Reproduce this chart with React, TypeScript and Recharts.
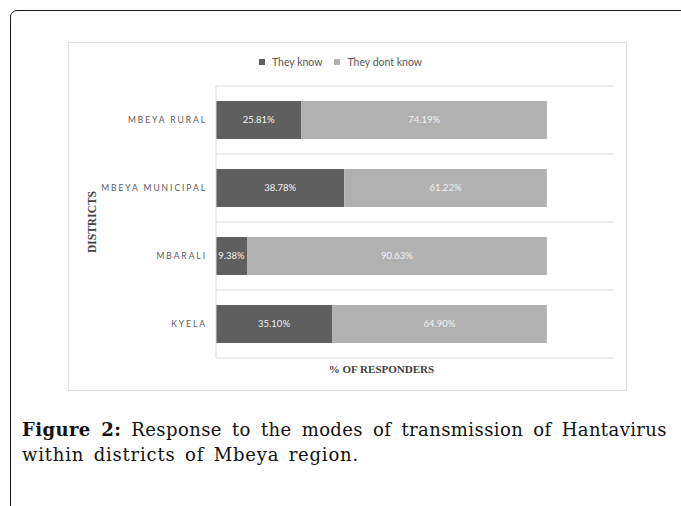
import React from 'react';
import { BarChart, Bar, XAxis, YAxis, CartesianGrid, Legend, LabelList } from 'recharts';

const districts = ['MBEYA RURAL', 'MBEYA MUNICIPAL', 'MBARALI', 'KYELA'];
const theyKnow = [25.81, 38.78, 9.38, 35.1];
const theyDontKnow = [74.19, 61.22, 90.63, 64.9];
const seriesNames = ['They know', 'They dont know'];

const data = districts.map((d, i) => ({ district: d, know: theyKnow[i], dontKnow: theyDontKnow[i] }));

const DARK = '#5f5f5f';
const LIGHT = '#b1b1b1';
const GRID = '#d9d9d9';
const SANS = 'Lato, "Open Sans", sans-serif';

const DistrictTick = (props: any) => {
  const { x, y, payload } = props;
  return (
    <text x={x + 1} y={y} dy={3} textAnchor="end" fill="#595959" fontSize={8.5} letterSpacing={1.95} fontFamily={SANS}>
      {payload.value}
    </text>
  );
};

const LegendContent = (props: any) => {
  const items = [...(props.payload || [])].sort(
    (a: any, b: any) => seriesNames.indexOf(a.value) - seriesNames.indexOf(b.value)
  );
  return (
    <div style={{ display: 'flex', justifyContent: 'center', alignItems: 'center', height: 14, fontFamily: SANS, fontSize: 10.5, color: '#595959' }}>
      {items.map((it: any, i: number) => (
        <div key={i} style={{ display: 'flex', alignItems: 'center', marginRight: i < items.length - 1 ? 12 : 0 }}>
          <span style={{ display: 'inline-block', width: 6, height: 6, background: it.color, marginRight: 7 }} />
          <span>{it.value}</span>
        </div>
      ))}
    </div>
  );
};

const fmt = (v: any) => Number(v).toFixed(2) + '%';

export default function App() {
  return (
    <div style={{ position: 'absolute', left: 0, top: 0, width: 681, height: 506, overflow: 'hidden', background: '#fff' }}>
      <div
        style={{
          position: 'absolute',
          left: 10,
          top: 10,
          width: 720,
          height: 560,
          border: '1.5px solid #1a1a1a',
          borderTopLeftRadius: 7,
          boxSizing: 'border-box',
        }}
      />
      <div
        style={{
          position: 'absolute',
          left: 68,
          top: 42,
          width: 559,
          height: 349,
          border: '1px solid #e0e0e0',
          boxSizing: 'border-box',
          background: '#fff',
        }}
      >
        <div style={{ position: 'absolute', left: -1, top: -1 }}>
          <BarChart
            width={559}
            height={349}
            data={data}
            layout="vertical"
            margin={{ top: 13, right: 14, bottom: 0, left: 0 }}
            barCategoryGap="22%"
          >
            <CartesianGrid
              vertical={false}
              stroke={GRID}
              horizontalCoordinatesGenerator={({ offset }: any) =>
                Array.from({ length: districts.length + 1 }, (_, i) => offset.top + (i * offset.height) / districts.length)
              }
            />
            <Legend
              verticalAlign="top"
              align="center"
              content={<LegendContent />}
              wrapperStyle={{ height: 31 }}
            />
            <XAxis
              type="number"
              domain={[0, 120]}
              axisLine={false}
              tickLine={false}
              tick={false}
              height={33}
              label={{
                content: (p: any) => {
                  const vb = p.viewBox || {};
                  return (
                    <text
                      x={vb.x + (vb.width * 100) / 120 / 2}
                      y={vb.y + 15}
                      textAnchor="middle"
                      fill="#404040"
                      fontSize={11}
                      fontWeight="bold"
                      fontFamily='"Liberation Serif", "Times New Roman", serif'
                    >
                      % OF RESPONDERS
                    </text>
                  );
                },
              }}
            />
            <YAxis
              type="category"
              dataKey="district"
              width={148}
              axisLine={{ stroke: GRID }}
              tickLine={false}
              tickMargin={4}
              tick={<DistrictTick />}
              label={{
                content: (p: any) => {
                  const vb = p.viewBox || {};
                  const cx = vb.x + 24;
                  const cy = vb.y + vb.height / 2;
                  return (
                    <text
                      x={cx}
                      y={cy}
                      transform={`rotate(-90 ${cx} ${cy})`}
                      textAnchor="middle"
                      dominantBaseline="central"
                      fill="#404040"
                      fontSize={11.5}
                      fontWeight="bold"
                      fontFamily='"Liberation Serif", "Times New Roman", serif'
                    >
                      DISTRICTS
                    </text>
                  );
                },
              }}
            />
            <Bar dataKey="know" name={seriesNames[0]} stackId="a" fill={DARK} isAnimationActive={false}>
              <LabelList dataKey="know" position="center" formatter={fmt} fill="#f2f2f2" fontSize={9.5} fontFamily={SANS} />
            </Bar>
            <Bar dataKey="dontKnow" name={seriesNames[1]} stackId="a" fill={LIGHT} isAnimationActive={false}>
              <LabelList dataKey="dontKnow" position="center" formatter={fmt} fill="#f2f2f2" fontSize={9.5} fontFamily={SANS} />
            </Bar>
          </BarChart>
        </div>
      </div>
      <div
        style={{
          position: 'absolute',
          left: 22,
          top: 417,
          width: 645,
          fontFamily: '"DejaVu Serif", serif',
          fontSize: 18,
          lineHeight: '25px',
          letterSpacing: 0.4,
          color: '#111',
        }}
      >
        <div style={{ textAlign: 'justify', textAlignLast: 'justify', whiteSpace: 'nowrap' as any }}>
          <b>Figure 2:</b> Response to the modes of transmission of Hantavirus
        </div>
        <div style={{ wordSpacing: 3, letterSpacing: 0.8 }}>within districts of Mbeya region.</div>
      </div>
    </div>
  );
}
